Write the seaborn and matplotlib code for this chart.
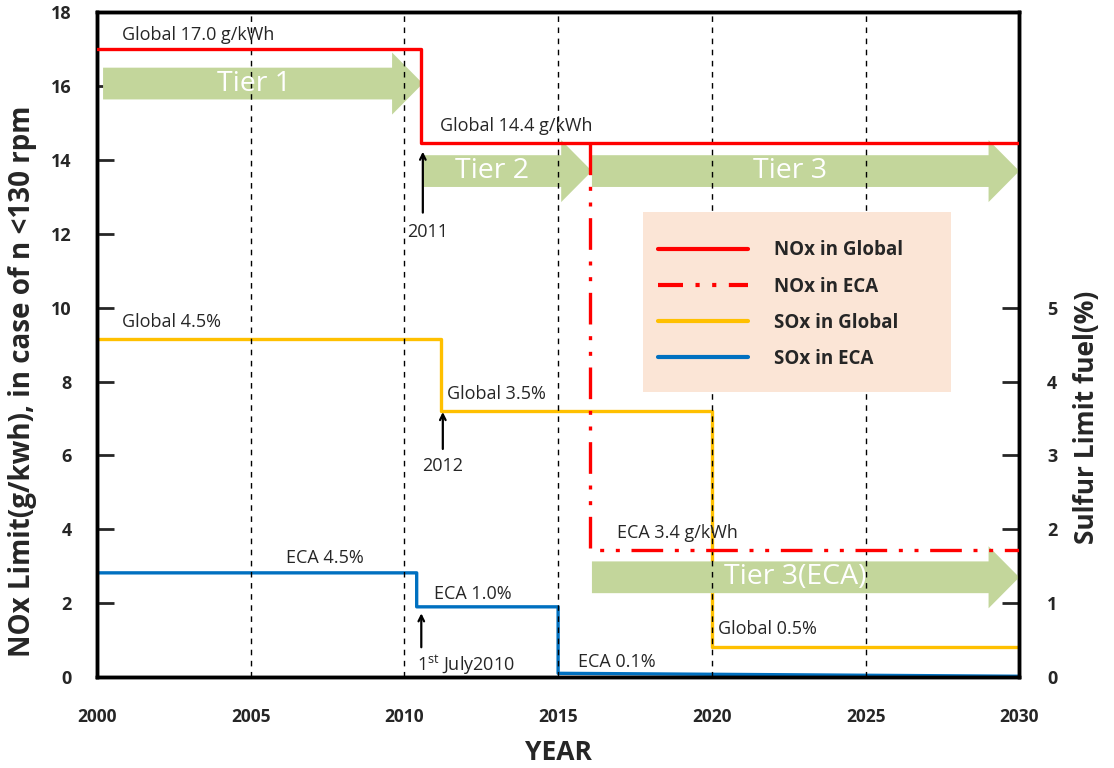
import pandas as pd
import seaborn as sns
import matplotlib.pyplot as plt
from matplotlib.patches import Polygon, Rectangle
from matplotlib.lines import Line2D

# NOx limits (g/kWh), step vertices
nox_global_year = [2000, 2010.55, 2010.55, 2030]
nox_global_val = [17.0, 17.0, 14.45, 14.45]
nox_eca_year = [2016.05, 2016.05, 2030]
nox_eca_val = [14.45, 3.45, 3.45]

# SOx limits (% sulfur in fuel), step vertices
sox_global_year = [2000, 2011.2, 2011.2, 2020, 2020, 2030]
sox_global_val = [4.57, 4.57, 3.6, 3.6, 0.41, 0.41]
sox_eca_year = [2000, 2010.4, 2010.4, 2015, 2015, 2030]
sox_eca_val = [1.41, 1.41, 0.95, 0.95, 0.05, 0.01]

# Tier arrows
tier_labels = ['Tier 1', 'Tier 2', 'Tier 3', 'Tier 3(ECA)']
tier_start = [2000.2, 2010.6, 2016.1, 2016.1]
tier_end = [2010.6, 2016.1, 2030, 2030]
tier_y = [16.07, 13.7, 13.7, 2.7]

year_ticks = [2000, 2005, 2010, 2015, 2020, 2025, 2030]

nox_g = pd.DataFrame({'year': nox_global_year, 'val': nox_global_val})
nox_e = pd.DataFrame({'year': nox_eca_year, 'val': nox_eca_val})
sox_g = pd.DataFrame({'year': sox_global_year, 'val': sox_global_val})
sox_e = pd.DataFrame({'year': sox_eca_year, 'val': sox_eca_val})

sns.set_style('white')
plt.rcParams['font.family'] = ['Open Sans', 'DejaVu Sans']
plt.rcParams['mathtext.fontset'] = 'custom'
plt.rcParams['mathtext.rm'] = 'Open Sans'

RED = '#ff0000'
YEL = '#ffc000'
BLUE = '#0070c0'
GREEN = '#c3d69b'
ECA_DASH = (0, (9.5, 3.5, 1.2, 3.5, 1.2, 3.5))

fig = plt.figure(figsize=(11.14, 7.68), dpi=100)
ax = fig.add_axes([0.087, 0.1185, 0.828, 0.8655])
ax2 = ax.twinx()
ax.set_zorder(ax2.get_zorder() + 1)
ax.patch.set_visible(False)

# SOx on right axis (behind)
sns.lineplot(data=sox_g, x='year', y='val', ax=ax2, color=YEL, lw=2.4,
             estimator=None, sort=False)
sns.lineplot(data=sox_e, x='year', y='val', ax=ax2, color=BLUE, lw=2.4,
             estimator=None, sort=False)

# NOx on left axis
sns.lineplot(data=nox_g, x='year', y='val', ax=ax, color=RED, lw=2.4,
             estimator=None, sort=False, zorder=4)
sns.lineplot(data=nox_e, x='year', y='val', ax=ax, color=RED, lw=2.4,
             estimator=None, sort=False, zorder=4, linestyle=ECA_DASH)

# tier arrows
bh, hh, hl = 0.43, 0.84, 1.0
for lab, x0, x1, y in zip(tier_labels, tier_start, tier_end, tier_y):
    pts = [(x0, y - bh), (x1 - hl, y - bh), (x1 - hl, y - hh), (x1, y),
           (x1 - hl, y + hh), (x1 - hl, y + bh), (x0, y + bh)]
    ax.add_patch(Polygon(pts, closed=True, fc=GREEN, ec='none', zorder=2))
    xc = (x0 + x1 - hl) / 2 if lab != 'Tier 3(ECA)' else 2022.7
    if lab == 'Tier 1':
        xc = 2005.1
    ax.text(xc, y, lab, color='white', fontsize=20.5, ha='center', va='center', zorder=3)

for yr in year_ticks[1:-1]:
    ax.axvline(yr, color='black', lw=1, linestyle=(0, (4, 4)), zorder=2.5)

# legend background
ax.add_patch(Rectangle((0.592, 0.4286), 0.334, 0.2707, transform=ax.transAxes,
                       fc='#fbe5d6', ec='none', zorder=3))
handles = [Line2D([], [], color=RED, lw=3),
           Line2D([], [], color=RED, lw=3, linestyle=(0, (6, 3, 1, 3, 1, 3))),
           Line2D([], [], color=YEL, lw=3),
           Line2D([], [], color=BLUE, lw=3)]
labels = ['NOx in Global', 'NOx in ECA', 'SOx in Global', 'SOx in ECA']
leg = ax.legend(handles, labels, loc='upper left', bbox_to_anchor=(0.6, 0.668),
                frameon=False, borderaxespad=0, handlelength=4.8, handletextpad=1.4,
                labelspacing=0.86, prop={'weight': 'bold', 'size': 13.5})
leg.set_zorder(6)

# value labels
fs = 13
ax.text(2000.8, 17.38, 'Global 17.0 g/kWh', fontsize=fs, va='center', zorder=5)
ax.text(2011.15, 14.92, 'Global 14.4 g/kWh', fontsize=fs, va='center', zorder=5)
ax.text(2000.8, 9.61, 'Global 4.5%', fontsize=fs, va='center', zorder=5)
ax.text(2011.4, 7.66, 'Global 3.5%', fontsize=fs, va='center', zorder=5)
ax.text(2006.15, 3.22, 'ECA 4.5%', fontsize=fs, va='center', zorder=5)
ax.text(2010.95, 2.25, 'ECA 1.0%', fontsize=fs, va='center', zorder=5)
ax.text(2015.65, 0.41, 'ECA 0.1%', fontsize=fs, va='center', zorder=5)
ax.text(2020.2, 1.30, 'Global 0.5%', fontsize=fs, va='center', zorder=5)
ax.text(2016.9, 3.90, 'ECA 3.4 g/kWh', fontsize=fs, va='center', zorder=5)

# date arrows
arrow = dict(arrowstyle='->', color='black', lw=1.6)
ax.annotate('', xy=(2010.6, 14.3), xytext=(2010.6, 12.5), arrowprops=arrow, zorder=5)
ax.text(2010.75, 12.05, '2011', fontsize=fs, ha='center', va='center', zorder=5)
ax.annotate('', xy=(2011.25, 7.25), xytext=(2011.25, 6.1), arrowprops=arrow, zorder=5)
ax.text(2011.25, 5.71, '2012', fontsize=fs, ha='center', va='center', zorder=5)
ax.annotate('', xy=(2010.55, 1.8), xytext=(2010.55, 0.73), arrowprops=arrow, zorder=5)
ax.text(2010.4, 0.32, '1$^{\\rm st}$ July2010', fontsize=fs, ha='left', va='center', zorder=5)

# axes
ax.set_xlim(2000, 2030)
ax.set_ylim(0, 18)
ax.set_yticks(range(0, 19, 2))
ax2.set_ylim(0, 9)
ax2.set_yticks(range(0, 6))
ax.set_xticks(year_ticks)
ax.set_xlabel('YEAR', fontsize=19, fontweight='bold', labelpad=10)
ax.set_ylabel('NOx Limit(g/kwh), in case of n <130 rpm', fontsize=20,
              fontweight='bold')
ax.yaxis.set_label_coords(-0.065, 0.445)
ax2.set_ylabel('Sulfur Limit fuel(%)', fontsize=19, fontweight='bold')
ax2.yaxis.set_label_coords(1.0586, 0.391)
ax2.set_xlabel('')
ax.tick_params(axis='y', direction='in', length=12, width=2, pad=18, labelsize=13)
ax.tick_params(axis='x', length=0, pad=22, labelsize=12.5)
ax2.tick_params(axis='y', direction='in', length=12, width=2, pad=20, labelsize=13)
for t in ax.get_xticklabels() + ax.get_yticklabels() + ax2.get_yticklabels():
    t.set_fontweight('bold')
for a in (ax, ax2):
    for s in a.spines.values():
        s.set_linewidth(2.5)
        s.set_color('black')

fig.savefig('out.png', dpi=100)
